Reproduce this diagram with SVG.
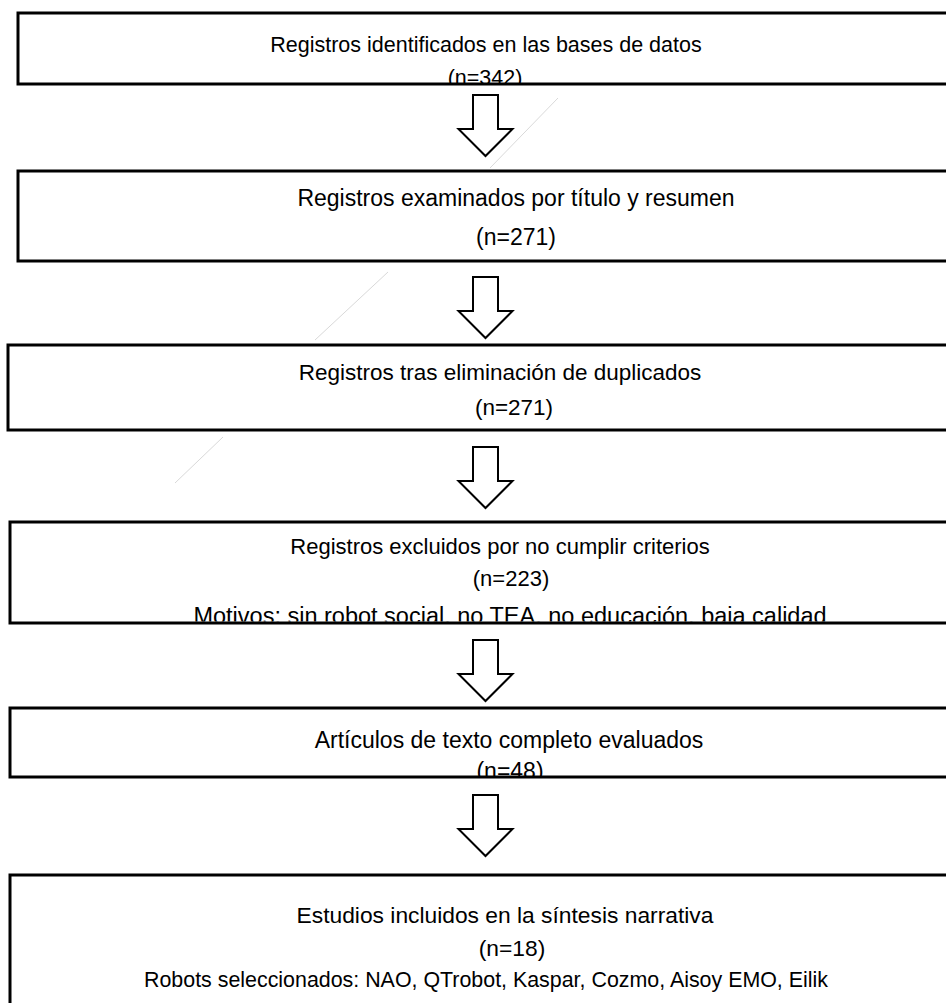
<svg xmlns="http://www.w3.org/2000/svg" width="946" height="1003" viewBox="0 0 946 1003">
<style>
.box{fill:#fff;stroke:#000;stroke-width:3}
.t{font-family:"Liberation Sans",Arial,sans-serif;font-size:22px;fill:#000;text-anchor:middle}
.arr{fill:#fff;stroke:#000;stroke-width:2;stroke-linejoin:miter}
.faint{stroke:#d9d9d9;stroke-width:1;fill:none}
</style>
<defs>
<clipPath id="c1"><rect x="18" y="13" width="940" height="70.5"/></clipPath>
<clipPath id="c4"><rect x="10" y="522" width="940" height="99.5"/></clipPath>
<clipPath id="c5"><rect x="10" y="708" width="940" height="68.5"/></clipPath>
<path id="a" d="M-12.5,0 H12.5 V34 H27 L0,61 L-27,34 H-12.5 Z"/>
</defs>
<rect width="946" height="1003" fill="#fff"/>
<g id="faint-lines">
<line class="faint" x1="600" y1="55" x2="585" y2="70"/>
<line class="faint" x1="558" y1="98" x2="490" y2="168"/>
<line class="faint" x1="388" y1="272" x2="315" y2="340"/>
<line class="faint" x1="223" y1="437" x2="175" y2="483"/>
</g>
<g id="n1">
<rect class="box" x="18" y="13" width="940" height="71"/>
<g clip-path="url(#c1)">
<text class="t" x="486" y="52" style="font-size:21.5px">Registros identificados en las bases de datos</text>
<text class="t" x="485" y="85" style="font-size:21.5px">(n=342)</text>
</g>
</g>
<g id="n2">
<rect class="box" x="18" y="171" width="940" height="90"/>
<text class="t" x="516" y="206" style="font-size:23px">Registros examinados por título y resumen</text>
<text class="t" x="516" y="245" style="font-size:23px">(n=271)</text>
</g>
<g id="n3">
<rect class="box" x="8" y="345" width="950" height="85"/>
<text class="t" x="500" y="380" style="font-size:22.5px">Registros tras eliminación de duplicados</text>
<text class="t" x="514" y="415" style="font-size:22.5px">(n=271)</text>
</g>
<g id="n4">
<rect class="box" x="10" y="522" width="950" height="101"/>
<g clip-path="url(#c4)">
<text class="t" x="500" y="554">Registros excluidos por no cumplir criterios</text>
<text class="t" x="511" y="586">(n=223)</text>
<text class="t" x="510" y="624" style="font-size:23.5px">Motivos: sin robot social, no TEA, no educación, baja calidad</text>
</g>
</g>
<g id="n5">
<rect class="box" x="10" y="708" width="950" height="69"/>
<g clip-path="url(#c5)">
<text class="t" x="509" y="748" style="font-size:23px">Artículos de texto completo evaluados</text>
<text class="t" x="510" y="779" style="font-size:23px">(n=48)</text>
</g>
</g>
<g id="n6">
<rect class="box" x="10" y="875" width="950" height="140"/>
<text class="t" x="505" y="923" style="font-size:22.8px">Estudios incluidos en la síntesis narrativa</text>
<text class="t" x="512" y="956" style="font-size:22.8px">(n=18)</text>
<text class="t" x="486" y="987" style="font-size:21.4px">Robots seleccionados: NAO, QTrobot, Kaspar, Cozmo, Aisoy EMO, Eilik</text>
</g>
<g id="connectors">
<use href="#a" class="arr" x="485.5" y="95"/>
<use href="#a" class="arr" x="485.5" y="277"/>
<use href="#a" class="arr" x="485.5" y="447"/>
<use href="#a" class="arr" x="485.5" y="640"/>
<use href="#a" class="arr" x="485.5" y="795"/>
</g>
</svg>
